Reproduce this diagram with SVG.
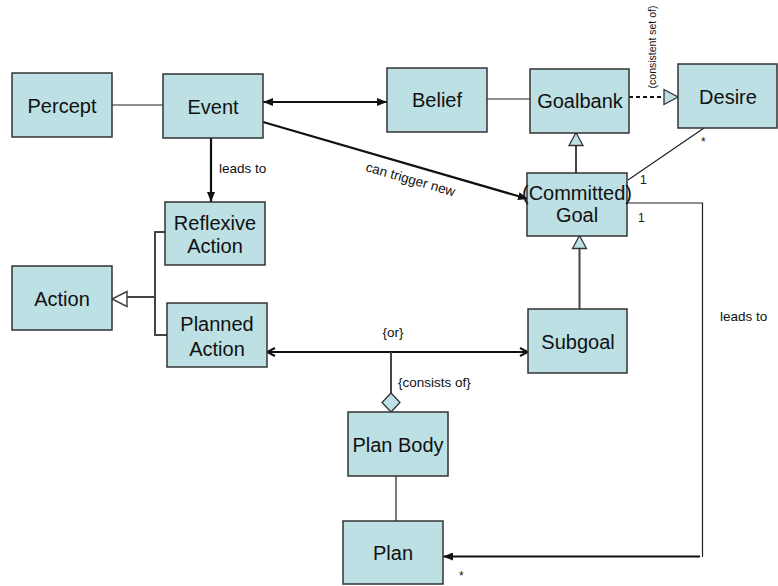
<svg xmlns="http://www.w3.org/2000/svg" width="778" height="586" viewBox="0 0 778 586">
<style>
.node rect{fill:#bce0e3;stroke:#333;stroke-width:1.5}
.node text{font-family:"Liberation Sans",Arial,sans-serif;font-size:20px;fill:#111;text-anchor:middle}
.lbl{font-family:"Liberation Sans",Arial,sans-serif;font-size:13.5px;fill:#111}
.sm{font-family:"Liberation Sans",Arial,sans-serif;font-size:12px;fill:#111}
.thin{stroke:#222;stroke-width:1.2;fill:none}
.thick{stroke:#111;stroke-width:2.2;fill:none}
.gen{stroke:#444;stroke-width:2;fill:none}
.tri{fill:#bce0e3;stroke:#333;stroke-width:1.3}
</style>
<defs>
<marker id="fa" viewBox="0 0 10 8" refX="10" refY="4" markerWidth="10" markerHeight="8" markerUnits="userSpaceOnUse" orient="auto-start-reverse">
<path d="M0,0 L10,4 L0,8 Z" fill="#111"/>
</marker>
<marker id="oa" viewBox="0 0 10 10" refX="9" refY="5" markerWidth="10" markerHeight="10" markerUnits="userSpaceOnUse" orient="auto-start-reverse">
<path d="M1,1 L9,5 L1,9" fill="none" stroke="#111" stroke-width="2"/>
</marker>
</defs>
<rect width="778" height="586" fill="#fff"/>
<g id="connectors">
<line class="thin" x1="112" y1="105" x2="163" y2="105"/>
<line class="thick" x1="263" y1="102" x2="387" y2="102" marker-start="url(#fa)" marker-end="url(#fa)"/>
<line class="thin" x1="487" y1="99" x2="530" y2="99"/>
<line x1="629" y1="97" x2="664" y2="97" stroke="#111" stroke-width="2" stroke-dasharray="4,3"/>
<path class="tri" d="M664,89.5 L678,97 L664,104.5 Z" fill="#bce0e3"/>
<text class="sm" style="font-size:10.5px" transform="translate(656,47) rotate(-90)" text-anchor="middle">(consistent set of)</text>
<line class="gen" x1="576" y1="173" x2="576" y2="145"/>
<path class="tri" d="M576,132.5 L569,145.5 L583,145.5 Z"/>
<line class="gen" x1="579.5" y1="309" x2="579.5" y2="248"/>
<path class="tri" d="M579.5,235.5 L572.5,248.5 L586.5,248.5 Z"/>
<line class="thin" x1="704" y1="128" x2="628" y2="180"/>
<text class="sm" x="701" y="146">*</text>
<text class="sm" x="640" y="184">1</text>
<text class="sm" x="638" y="222">1</text>
<line class="thick" x1="263" y1="122" x2="528" y2="199" marker-end="url(#fa)"/>
<text class="lbl" transform="translate(365,171) rotate(16)">can trigger new</text>
<line class="thick" x1="211" y1="138" x2="211" y2="202" marker-end="url(#fa)"/>
<text class="lbl" x="219" y="173">leads to</text>
<polyline class="thin" points="627,203 702.5,203 702.5,557"/>
<line class="thick" x1="700" y1="556.5" x2="443" y2="556.5" marker-end="url(#fa)"/>
<text class="lbl" x="720" y="321">leads to</text>
<text class="sm" x="459" y="580">*</text>
<line class="gen" x1="127" y1="297" x2="155" y2="297"/>
<polyline class="gen" points="165,232 155,232 155,335 167,335"/>
<path d="M112,299 L127,291.5 L127,306.5 Z" fill="#fff" stroke="#444" stroke-width="1.5"/>
<line class="thick" x1="267" y1="352" x2="528" y2="352" marker-start="url(#oa)" marker-end="url(#oa)"/>
<text class="lbl" x="393" y="337" text-anchor="middle">{or}</text>
<line class="gen" x1="391" y1="352" x2="391" y2="393"/>
<path class="tri" d="M391,393 L400,402.5 L391,412 L382,402.5 Z"/>
<text class="lbl" x="398" y="387">{consists of}</text>
<line class="thin" x1="396" y1="476" x2="396" y2="521"/>
</g>
<g id="percept" class="node"><rect x="12" y="73" width="100" height="64"/><text x="62" y="113">Percept</text></g>
<g id="event" class="node"><rect x="163" y="74" width="100" height="64"/><text x="213" y="114">Event</text></g>
<g id="belief" class="node"><rect x="387" y="68" width="100" height="64"/><text x="437" y="107">Belief</text></g>
<g id="goalbank" class="node"><rect x="530" y="69" width="99" height="64"/><text x="580" y="108">Goalbank</text></g>
<g id="desire" class="node"><rect x="678" y="64" width="99" height="64"/><text x="728" y="104">Desire</text></g>
<g id="goal" class="node"><rect x="527" y="173" width="100" height="63"/><text x="577" y="200">(Committed)</text><text x="577" y="222">Goal</text></g>
<g id="reflexive-action" class="node"><rect x="165" y="202" width="100" height="63"/><text x="215" y="230">Reflexive</text><text x="215" y="253">Action</text></g>
<g id="action" class="node"><rect x="12" y="266" width="100" height="64"/><text x="62" y="306">Action</text></g>
<g id="planned-action" class="node"><rect x="167" y="303" width="100" height="64"/><text x="217" y="331">Planned</text><text x="217" y="356">Action</text></g>
<g id="subgoal" class="node"><rect x="528" y="309" width="99" height="64"/><text x="578" y="349">Subgoal</text></g>
<g id="plan-body" class="node"><rect x="348" y="412" width="100" height="64"/><text x="398" y="452">Plan Body</text></g>
<g id="plan" class="node"><rect x="343" y="521" width="100" height="63"/><text x="393" y="560">Plan</text></g>
</svg>
